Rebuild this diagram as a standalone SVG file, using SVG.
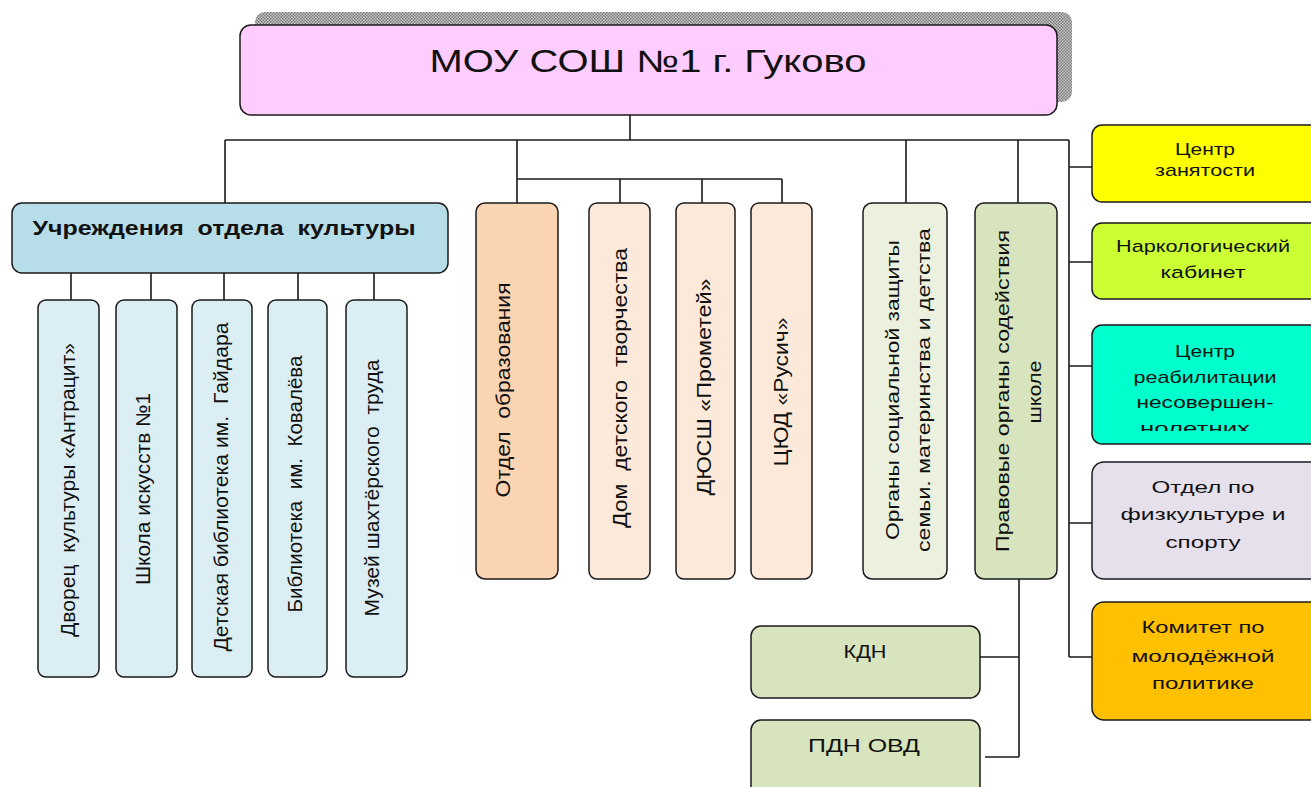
<svg xmlns="http://www.w3.org/2000/svg" width="1311" height="787" viewBox="0 0 1311 787">
<defs>
<style>
.box{stroke:#1a1a1a;stroke-width:1.5}
.ln{fill:none;stroke:#1a1a1a;stroke-width:1.6}
text{font-family:"Liberation Sans",Arial,sans-serif;fill:#111;text-anchor:middle;white-space:pre}
.v{font-size:20px}
.v18{font-size:18px}
.r{font-size:17px}
.culture{fill:#dbeef3}
.edu{fill:#fde9d9}
</style>
<pattern id="hatch" width="3" height="3" patternUnits="userSpaceOnUse">
<rect width="3" height="3" fill="#c8c8c8"/>
<rect width="1.5" height="1.5" fill="#7a7a7a"/>
<rect x="1.5" y="1.5" width="1.5" height="1.5" fill="#7a7a7a"/>
</pattern>
<clipPath id="clipReab"><rect x="1092" y="325" width="230" height="106"/></clipPath>
</defs>
<rect width="1311" height="787" fill="#ffffff"/>

<g id="connectors">
<path class="ln" d="M630,115 V140 M225,140 H1069 M225,140 V203 M517,140 V203 M517,179 H782 M620,179 V203 M702,179 V203 M782,179 V203 M906,140 V203 M1018,140 V203"/>
<path class="ln" d="M71,273 V300 M151,273 V300 M224,273 V300 M298,273 V300 M374,273 V300"/>
<path class="ln" d="M1069,140 V657 M1069,167 H1092 M1069,262 H1092 M1069,366 H1092 M1069,523 H1092 M1069,657 H1092"/>
<path class="ln" d="M1019,579 V757 M980,657 H1019 M985,757 H1019"/>
</g>

<g id="node-school">
<rect x="255" y="12" width="817" height="90" rx="10" fill="url(#hatch)"/>
<rect class="box" x="240" y="25" width="817" height="90" rx="11" fill="#ffccff"/>
<text x="648" y="72" font-size="31" textLength="437" lengthAdjust="spacingAndGlyphs">МОУ СОШ №1 г. Гуково</text>
</g>

<g id="node-culture">
<rect class="box" x="12" y="203" width="436" height="70" rx="10" fill="#b7dde8"/>
<text xml:space="preserve" x="224" y="235" font-size="21" font-weight="bold" textLength="383" lengthAdjust="spacingAndGlyphs">Учреждения  отдела  культуры</text>
</g>

<g id="node-dvorets">
<rect class="box culture" x="38" y="300" width="61" height="377" rx="8"/>
<text xml:space="preserve" class="v" transform="translate(68,490) rotate(-90)" dy="7" textLength="294" lengthAdjust="spacingAndGlyphs">Дворец  культуры «Антрацит»</text>
</g>
<g id="node-shkola">
<rect class="box culture" x="116" y="300" width="61" height="377" rx="8"/>
<text class="v" transform="translate(143,489) rotate(-90)" dy="7" textLength="192" lengthAdjust="spacingAndGlyphs">Школа искусств №1</text>
</g>
<g id="node-gaidar">
<rect class="box culture" x="192" y="300" width="60" height="377" rx="8"/>
<text xml:space="preserve" class="v" transform="translate(221,487) rotate(-90)" dy="7" textLength="329" lengthAdjust="spacingAndGlyphs">Детская библиотека им.  Гайдара</text>
</g>
<g id="node-kovalev">
<rect class="box culture" x="268" y="300" width="59" height="377" rx="8"/>
<text xml:space="preserve" class="v" transform="translate(295,484) rotate(-90)" dy="7" textLength="257" lengthAdjust="spacingAndGlyphs">Библиотека  им.  Ковалёва</text>
</g>
<g id="node-muzei">
<rect class="box culture" x="346" y="300" width="61" height="377" rx="8"/>
<text xml:space="preserve" class="v" transform="translate(372,488) rotate(-90)" dy="7" textLength="257" lengthAdjust="spacingAndGlyphs">Музей шахтёрского  труда</text>
</g>

<g id="node-otdel-obr">
<rect class="box" x="476" y="203" width="82" height="376" rx="9" fill="#fbd4b4"/>
<text xml:space="preserve" class="v" transform="translate(503,390) rotate(-90)" dy="7" textLength="215" lengthAdjust="spacingAndGlyphs">Отдел  образования</text>
</g>
<g id="node-ddt">
<rect class="box edu" x="589" y="203" width="61" height="376" rx="8"/>
<text xml:space="preserve" class="v" transform="translate(620,388) rotate(-90)" dy="7" textLength="280" lengthAdjust="spacingAndGlyphs">Дом  детского  творчества</text>
</g>
<g id="node-dyussh">
<rect class="box edu" x="676" y="203" width="59" height="376" rx="8"/>
<text class="v" transform="translate(704,387) rotate(-90)" dy="7" textLength="217" lengthAdjust="spacingAndGlyphs">ДЮСШ «Прометей»</text>
</g>
<g id="node-tsyud">
<rect class="box edu" x="751" y="203" width="61" height="376" rx="8"/>
<text class="v" transform="translate(781,392) rotate(-90)" dy="7" textLength="149" lengthAdjust="spacingAndGlyphs">ЦЮД «Русич»</text>
</g>

<g id="node-soczaschita">
<rect class="box" x="863" y="203" width="84" height="376" rx="9" fill="#ebf1de"/>
<text class="v18" transform="translate(893,390) rotate(-90)" dy="6" textLength="300" lengthAdjust="spacingAndGlyphs">Органы социальной защиты</text>
<text class="v18" transform="translate(924,390) rotate(-90)" dy="6" textLength="324" lengthAdjust="spacingAndGlyphs">семьи. материнства и детства</text>
</g>
<g id="node-pravovye">
<rect class="box" x="975" y="203" width="82" height="376" rx="9" fill="#d7e4bd"/>
<text class="v18" transform="translate(1003,391) rotate(-90)" dy="6" textLength="322" lengthAdjust="spacingAndGlyphs">Правовые органы содействия</text>
<text class="v18" transform="translate(1035,392) rotate(-90)" dy="6" textLength="63" lengthAdjust="spacingAndGlyphs">школе</text>
</g>

<g id="node-kdn">
<rect class="box" x="751" y="626" width="229" height="72" rx="10" fill="#d7e4bd"/>
<text x="865" y="658" font-size="18" textLength="43" lengthAdjust="spacingAndGlyphs">КДН</text>
</g>
<g id="node-pdn">
<rect class="box" x="751" y="720" width="229" height="90" rx="10" fill="#d7e4bd"/>
<text x="864" y="752" font-size="18" textLength="112" lengthAdjust="spacingAndGlyphs">ПДН ОВД</text>
</g>

<g id="node-zanyatost">
<rect class="box" x="1092" y="125" width="230" height="77" rx="10" fill="#ffff00"/>
<text class="r" x="1205" y="155" font-size="15" textLength="60" lengthAdjust="spacingAndGlyphs">Центр</text>
<text class="r" x="1205" y="176" font-size="15" textLength="100" lengthAdjust="spacingAndGlyphs">занятости</text>
</g>
<g id="node-narkolog">
<rect class="box" x="1092" y="223" width="230" height="76" rx="10" fill="#ccff33"/>
<text class="r" x="1203" y="252" textLength="174" lengthAdjust="spacingAndGlyphs">Наркологический</text>
<text class="r" x="1203" y="278" textLength="85" lengthAdjust="spacingAndGlyphs">кабинет</text>
</g>
<g id="node-reabilit">
<rect class="box" x="1092" y="325" width="230" height="119" rx="10" fill="#00ffcc"/>
<text class="r" x="1205" y="357" font-size="16" textLength="60" lengthAdjust="spacingAndGlyphs">Центр</text>
<text class="r" x="1205" y="383" font-size="16" textLength="143" lengthAdjust="spacingAndGlyphs">реабилитации</text>
<text class="r" x="1205" y="408" font-size="16" textLength="137" lengthAdjust="spacingAndGlyphs">несовершен-</text>
<text class="r" x="1195" y="434" font-size="16" textLength="110" lengthAdjust="spacingAndGlyphs" clip-path="url(#clipReab)">нолетних</text>
</g>
<g id="node-fizkult">
<rect class="box" x="1092" y="462" width="230" height="117" rx="12" fill="#e5e0ec"/>
<text class="r" x="1203" y="493" font-size="18" textLength="103" lengthAdjust="spacingAndGlyphs">Отдел по</text>
<text class="r" x="1203" y="520" font-size="18" textLength="165" lengthAdjust="spacingAndGlyphs">физкультуре и</text>
<text class="r" x="1203" y="548" font-size="18" textLength="75" lengthAdjust="spacingAndGlyphs">спорту</text>
</g>
<g id="node-molodezh">
<rect class="box" x="1092" y="602" width="230" height="118" rx="12" fill="#ffc000"/>
<text class="r" x="1203" y="633" font-size="18" textLength="123" lengthAdjust="spacingAndGlyphs">Комитет по</text>
<text class="r" x="1203" y="662" font-size="18" textLength="143" lengthAdjust="spacingAndGlyphs">молодёжной</text>
<text class="r" x="1203" y="689" font-size="18" textLength="102" lengthAdjust="spacingAndGlyphs">политике</text>
</g>
</svg>
